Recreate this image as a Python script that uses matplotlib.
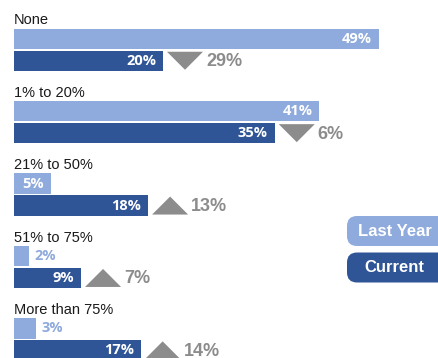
import matplotlib
matplotlib.use("Agg")
import matplotlib.pyplot as plt
from matplotlib.patches import Polygon, FancyBboxPatch

categories = ["None", "1% to 20%", "21% to 50%", "51% to 75%", "More than 75%"]
last_year = [49, 41, 5, 2, 3]
current = [20, 35, 18, 9, 17]
legend_labels = ["Last Year", "Current"]

C_LAST = "#8faadc"
C_CUR = "#2f5597"
C_GRAY = "#8c8c8c"

W, H = 439, 358
DPI = 100
fig = plt.figure(figsize=(W / DPI, H / DPI), dpi=DPI)
fig.patch.set_facecolor("white")

PX_PER_PCT = 7.45
X0 = 14
ax = fig.add_axes([0, 0, 1, 1])
ax.set_xlim(-X0 / PX_PER_PCT, (W - X0) / PX_PER_PCT)
ax.set_ylim(H, 0)
ax.axis("off")

def px(p):
    return p / PX_PER_PCT

GROUP_TOP = 28.5
GROUP_STEP = 72.4
BAR_H = 20.5
GAP = 1.5

for i, cat in enumerate(categories):
    top = GROUP_TOP + GROUP_STEP * i
    y1 = top + BAR_H / 2
    y2 = top + BAR_H + GAP + BAR_H / 2
    ly, cu = last_year[i], current[i]
    ax.barh(y1, ly, height=BAR_H, left=0, color=C_LAST, edgecolor="none")
    ax.barh(y2, cu, height=BAR_H, left=0, color=C_CUR, edgecolor="none")
    # category label
    ax.text(0, top - 4, cat, ha="left", va="baseline", fontsize=10.5,
            family="Liberation Sans", color="#1a1a1a")
    # last year value label
    if ly >= 5:
        ax.annotate(f"{ly}%", (ly, y1), xytext=(-5, 0), textcoords="offset points",
                    ha="right", va="center", fontsize=10.5, fontweight="bold",
                    family="Open Sans", color="white")
    else:
        ax.annotate(f"{ly}%", (ly, y1), xytext=(4, 0), textcoords="offset points",
                    ha="left", va="center", fontsize=10.5, fontweight="bold",
                    family="Open Sans", color=C_LAST)
    ax.annotate(f"{cu}%", (cu, y2), xytext=(-5, 0), textcoords="offset points",
                ha="right", va="center", fontsize=10.5, fontweight="bold",
                family="Open Sans", color="white")
    # change triangle
    diff = cu - ly
    tx0 = cu + px(4)
    tx1 = tx0 + px(36)
    th = 18
    if diff < 0:
        pts = [(tx0, y2 - th / 2), (tx1, y2 - th / 2), ((tx0 + tx1) / 2, y2 + th / 2)]
    else:
        pts = [(tx0, y2 + th / 2), (tx1, y2 + th / 2), ((tx0 + tx1) / 2, y2 - th / 2)]
    ax.add_patch(Polygon(pts, closed=True, facecolor=C_GRAY, edgecolor="none"))
    ax.text(tx1 + px(3), y2 + 1, f"{abs(diff)}%", ha="left", va="center",
            fontsize=13, fontweight="bold", family="Liberation Sans", color=C_GRAY)

# legend in pixel space
lax = fig.add_axes([0, 0, 1, 1], facecolor="none")
lax.set_xlim(0, W)
lax.set_ylim(H, 0)
lax.axis("off")
for (label, col, ytop) in [(legend_labels[0], C_LAST, 216), (legend_labels[1], C_CUR, 252.5)]:
    box = FancyBboxPatch((347 + 10, ytop + 10), 120 - 20, 30 - 20,
                         boxstyle="round,pad=10", facecolor=col, edgecolor="none",
                         clip_on=False)
    lax.add_patch(box)
    lax.text(394.5, ytop + 15.5, label, ha="center", va="center", fontsize=12,
             fontweight="bold", family="Liberation Sans", color="white")

fig.savefig("out.png", dpi=DPI, facecolor="white")
